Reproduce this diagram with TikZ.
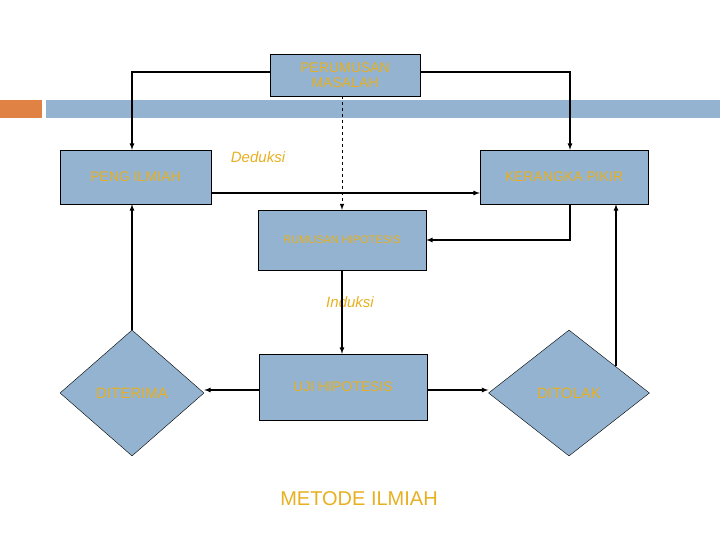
\documentclass[tikz,border=0pt]{standalone}
\usepackage{fontspec}
\setmainfont{Liberation Sans}
\usetikzlibrary{shapes.geometric}
\definecolor{boxfill}{HTML}{93B3D0}
\definecolor{txt}{HTML}{E8B020}
\definecolor{orng}{HTML}{DF8244}
\begin{document}
\begin{tikzpicture}[x=1pt,y=-1pt,
  box/.style={draw=black,fill=boxfill,text=txt,font=\fontsize{14}{15}\selectfont,align=center,inner sep=0pt},
  dia/.style={diamond,draw=black,fill=boxfill,text=txt,font=\fontsize{15}{16}\selectfont,inner sep=0pt,aspect=1.2},
  arr/.style={draw=black,line width=1.2pt,-latex},
  lab/.style={text=txt,font=\fontsize{15}{16}\selectfont\itshape}]
\useasboundingbox (0,0) rectangle (720,540);
\fill[orng] (0,100) rectangle (42,118);
\fill[boxfill] (46,100) rectangle (720,118);
\node[box,minimum width=150,minimum height=42] (pm) at (345,75) {PERUMUSAN\\MASALAH};
\node[box,minimum width=151,minimum height=54] (pi) at (135.5,177) {PENG ILMIAH};
\node[box,minimum width=168,minimum height=54] (kp) at (564,177) {KERANGKA PIKIR};
\node[box,minimum width=168,minimum height=60,font=\fontsize{11}{12}\selectfont] (rh) at (342,240) {RUMUSAN HIPOTESIS};
\node[box,minimum width=168,minimum height=66] (uh) at (343,387) {UJI HIPOTESIS};
\node[dia,minimum width=144,minimum height=126] (dt) at (132,393) {DITERIMA};
\node[dia,minimum width=161,minimum height=126] (dk) at (569,393) {DITOLAK};
\node[lab] (ded) at (258,157) {Deduksi};
\node[lab] (ind) at (350,302) {Induksi};
\node[text=txt,font=\fontsize{20}{22}\selectfont] (mi) at (359,499) {METODE ILMIAH};
\draw[arr] (pm.west |- 0,72) -- (132,72) -- (pi.north -| 132,0);
\draw[arr] (pm.east |- 0,72) -- (570,72) -- (kp.north -| 570,0);
\draw[arr,dashed,line width=1pt] (pm.south -| 342,0) -- (rh.north);
\draw[arr] (pi.east |- 0,193) -- (kp.west |- 0,193);
\draw[arr] (kp.south -| 570,0) -- (570,240) -- (rh.east);
\draw[arr] (rh.south) -- (uh.north -| 342,0);
\draw[arr] (dt.north) -- (pi.south -| 132,0);
\draw[arr] (616,366) -- (kp.south -| 616,0);
\draw[arr] (uh.west |- 0,390) -- (dt.east |- 0,390);
\draw[arr] (uh.east |- 0,390) -- (dk.west |- 0,390);
\end{tikzpicture}
\end{document}
